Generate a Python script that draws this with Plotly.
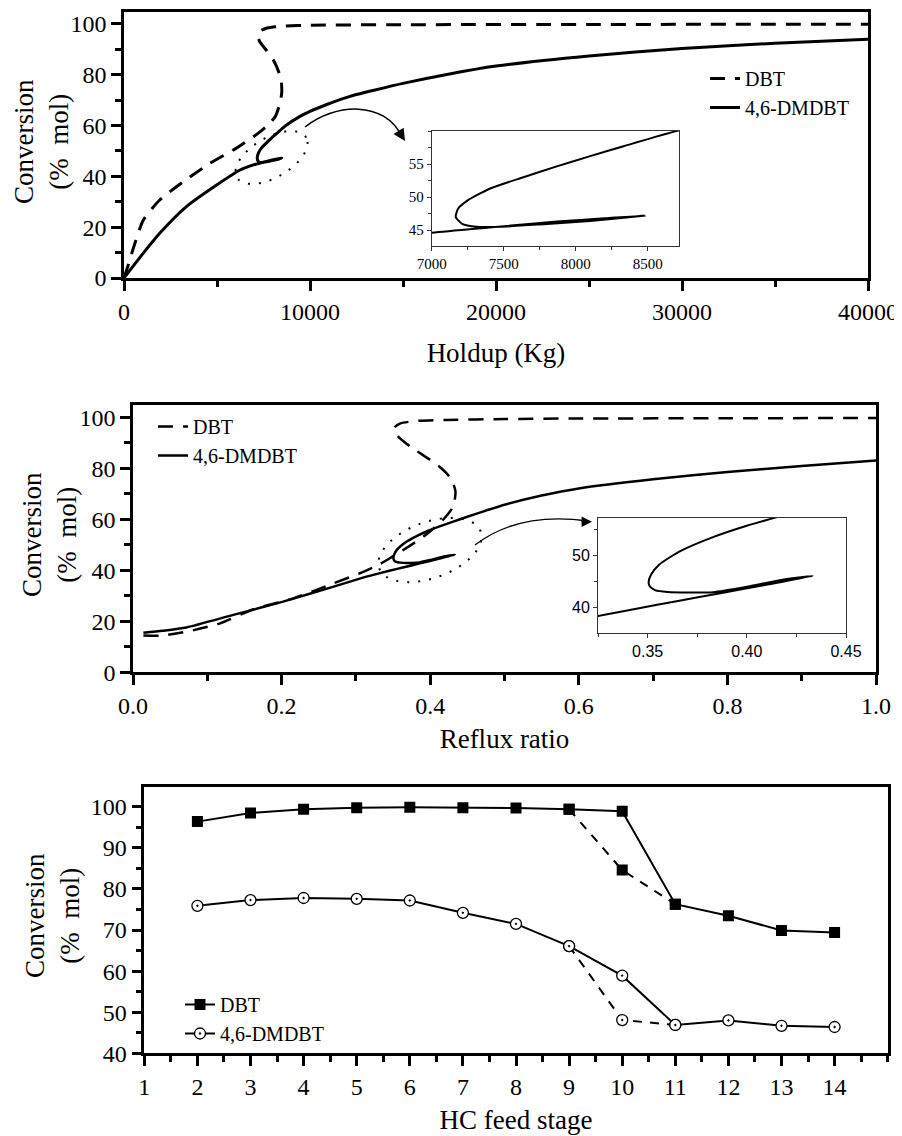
import numpy as np
import plotly.graph_objects as go

W, H = 902, 1136
OFF = 8  # page body margin of the browser

# ---------------- Panel 1: Holdup ----------------
holdup_dbt_x = [0, 200, 500, 1040, 1920, 3190, 4610, 5880, 6950, 7400, 7850, 8150, 8390, 8480,
                8460, 8350, 8030, 7650, 7300, 7200, 7350, 7700, 8500, 10000, 15000, 25000, 40000]
holdup_dbt_y = [0, 4.4, 11.7, 22.8, 30.7, 37.9, 45.1, 50.4, 55.6, 58.0, 61.0, 63.8, 68.8, 73.0,
                77.0, 80.5, 85.8, 89.7, 93.0, 95.5, 97.3, 98.4, 99.1, 99.5, 99.7, 99.8, 99.9]

holdup_dm_x = [0, 1040, 1920, 3370, 4980, 6240, 7000, 7400, 7870, 8200, 8480,
               8100, 7750, 7475, 7313, 7209, 7167, 7185, 7243, 7406, 7637, 7869, 8101, 8333, 8720,
               9460, 10000, 10900, 12150, 13500, 15000, 17500, 20000, 25000, 30000, 35000, 40000]
holdup_dm_y = [0, 9.8, 17.6, 28.2, 36.6, 42.5, 44.6, 45.4, 46.3, 46.8, 47.2,
               46.4, 45.86, 45.5, 45.5, 46.0, 47.0, 48.3, 49.4, 51.3, 53.0, 54.65, 56.2, 57.7, 60.1,
               63.6, 65.6, 68.3, 71.5, 74.0, 76.6, 80.3, 83.4, 87.4, 90.3, 92.4, 94.0]

# ---------------- Panel 2: Reflux ratio ----------------
reflux_dbt_x = [0.014, 0.036, 0.072, 0.117, 0.162, 0.216, 0.27, 0.305, 0.332, 0.35, 0.364, 0.391,
                0.418, 0.431, 0.434, 0.428, 0.415, 0.40, 0.373, 0.355, 0.352, 0.36, 0.38, 0.42,
                0.5, 0.6, 0.8, 1.0]
reflux_dbt_y = [14.4, 14.35, 15.9, 19.2, 24.7, 29.0, 34.9, 38.8, 42.4, 45.5, 48.0, 53.2,
                60.0, 65.0, 71.0, 76.0, 80.0, 83.3, 88.5, 93.1, 96.0, 97.6, 98.5, 98.9,
                99.3, 99.5, 99.6, 99.7]

reflux_dm_x = [0.014, 0.04, 0.072, 0.135, 0.202, 0.27, 0.314, 0.3247, 0.345, 0.366, 0.386, 0.41, 0.4333,
               0.4165, 0.40, 0.383, 0.37, 0.36, 0.354, 0.3512, 0.3505, 0.3517, 0.3559, 0.366, 0.383,
               0.40, 0.4165, 0.43, 0.45, 0.475, 0.5, 0.55, 0.6, 0.7, 0.8, 0.9, 1.0]
reflux_dm_y = [15.5, 16.3, 17.6, 22.5, 27.7, 33.6, 37.5, 38.3, 39.8, 41.3, 42.7, 44.4, 46.1,
               45.25, 44.0, 42.95, 42.9, 43.0, 43.3, 44.0, 44.8, 46.3, 48.3, 50.8, 53.6,
               55.8, 57.6, 59.0, 61.0, 63.4, 65.7, 69.3, 72.1, 75.7, 78.5, 80.9, 83.0]

# ---------------- Panel 3: HC feed stage ----------------
stage = [2, 3, 4, 5, 6, 7, 8, 9, 10, 11, 12, 13, 14]
stage_dbt = [96.4, 98.5, 99.4, 99.8, 99.9, 99.8, 99.7, 99.4, 98.9, 76.3, 73.5, 69.9, 69.4]
stage_dm = [75.9, 77.3, 77.8, 77.6, 77.2, 74.2, 71.5, 66.1, 58.9, 46.9, 48.0, 46.7, 46.4]
alt_stage = [9, 10, 11]
alt_dbt = [99.4, 84.6, 76.3]
alt_dm = [66.1, 48.1, 46.9]
stage_ticks = [1, 2, 3, 4, 5, 6, 7, 8, 9, 10, 11, 12, 13, 14]

SERIF = "Liberation Serif, Times New Roman, serif"
SANS = "Liberation Sans, Arial, sans-serif"


def pxx(x):
    return (x - OFF) / W


def pxy(y):
    return (H + OFF - y) / H


fig = go.Figure()

# Panel 1 traces
fig.add_trace(go.Scatter(x=holdup_dbt_x, y=holdup_dbt_y, mode="lines", name="DBT",
                         line=dict(color="black", width=3, dash="15px,10px", shape="spline", smoothing=0.6),
                         xaxis="x", yaxis="y", legend="legend"))
fig.add_trace(go.Scatter(x=holdup_dm_x, y=holdup_dm_y, mode="lines", name="4,6-DMDBT",
                         line=dict(color="black", width=3, shape="spline", smoothing=0.6),
                         xaxis="x", yaxis="y", legend="legend"))
# inset 1
fig.add_trace(go.Scatter(x=holdup_dm_x, y=holdup_dm_y, mode="lines", showlegend=False,
                         line=dict(color="black", width=2, shape="spline", smoothing=0.6),
                         xaxis="x4", yaxis="y4"))

# Panel 2 traces
fig.add_trace(go.Scatter(x=reflux_dbt_x, y=reflux_dbt_y, mode="lines", name="DBT",
                         line=dict(color="black", width=2.5, dash="15px,10px", shape="spline", smoothing=0.6),
                         xaxis="x2", yaxis="y2", legend="legend2"))
fig.add_trace(go.Scatter(x=reflux_dm_x, y=reflux_dm_y, mode="lines", name="4,6-DMDBT",
                         line=dict(color="black", width=2.5, shape="spline", smoothing=0.6),
                         xaxis="x2", yaxis="y2", legend="legend2"))
# inset 2
fig.add_trace(go.Scatter(x=reflux_dm_x, y=reflux_dm_y, mode="lines", showlegend=False,
                         line=dict(color="black", width=2, shape="spline", smoothing=0.6),
                         xaxis="x5", yaxis="y5"))

# Panel 3 traces
fig.add_trace(go.Scatter(x=alt_stage, y=alt_dbt, mode="lines+markers", showlegend=False,
                         line=dict(color="black", width=2, dash="9px,8px"),
                         marker=dict(symbol="square", size=11, color="black"),
                         xaxis="x3", yaxis="y3"))
fig.add_trace(go.Scatter(x=alt_stage, y=alt_dm, mode="lines+markers", showlegend=False,
                         line=dict(color="black", width=2, dash="9px,8px"),
                         marker=dict(symbol="circle-dot", size=11, color="white",
                                     line=dict(color="black", width=1.3)),
                         xaxis="x3", yaxis="y3"))
fig.add_trace(go.Scatter(x=stage, y=stage_dbt, mode="lines+markers", name="DBT",
                         line=dict(color="black", width=2),
                         marker=dict(symbol="square", size=11, color="black"),
                         xaxis="x3", yaxis="y3", legend="legend3"))
fig.add_trace(go.Scatter(x=stage, y=stage_dm, mode="lines+markers", name="4,6-DMDBT",
                         line=dict(color="black", width=2),
                         marker=dict(symbol="circle-dot", size=11, color="white",
                                     line=dict(color="black", width=1.3)),
                         xaxis="x3", yaxis="y3", legend="legend3"))

tickfont = dict(family=SERIF, size=24, color="black")
titlefont = dict(family=SERIF, size=27, color="black")


def main_axis(**kw):
    d = dict(showline=True, linewidth=2.5, linecolor="black", mirror=True,
             ticks="outside", ticklen=10, tickwidth=2.5, tickcolor="black",
             showgrid=False, zeroline=False, tickfont=tickfont, automargin=False)
    d.update(kw)
    return d


def inset_axis(font, size, **kw):
    d = dict(showline=True, linewidth=1, linecolor="#333", mirror=True,
             ticks="outside", ticklen=4, tickwidth=1, tickcolor="#333",
             showgrid=False, zeroline=False, automargin=False,
             tickfont=dict(family=font, size=size, color="black"))
    d.update(kw)
    return d


fig.update_layout(
    width=W, height=H, autosize=False,
    margin=dict(l=0, r=0, t=0, b=0, pad=0, autoexpand=False),
    paper_bgcolor="white", plot_bgcolor="white",
    font=dict(family=SERIF, color="black"),
    # Panel 1
    xaxis=main_axis(domain=[pxx(124), pxx(868)], anchor="y", range=[0, 40000], dtick=10000, tickformat="d",
                    minor=dict(ticks="outside", ticklen=6, tickwidth=2.5, dtick=5000, tickcolor="black"),
                    title=dict(text="Holdup (Kg)", font=titlefont, standoff=20)),
    yaxis=main_axis(domain=[pxy(278), pxy(12)], anchor="x", range=[0, 104.7], dtick=20,
                    minor=dict(ticks="outside", ticklen=6, tickwidth=2.5, dtick=10, tickcolor="black")),
    # Panel 2
    xaxis2=main_axis(domain=[pxx(133), pxx(876)], anchor="y2", range=[0, 1.0], dtick=0.2, tickformat=".1f",
                     minor=dict(ticks="outside", ticklen=6, tickwidth=2.5, dtick=0.1, tickcolor="black"),
                     title=dict(text="Reflux ratio", font=titlefont, standoff=12)),
    yaxis2=main_axis(domain=[pxy(672.3), pxy(405)], anchor="x2", range=[0, 104.8], dtick=20,
                     minor=dict(ticks="outside", ticklen=6, tickwidth=2.5, dtick=10, tickcolor="black")),
    # Panel 3
    xaxis3=main_axis(domain=[pxx(144.3), pxx(887.7)], anchor="y3", range=[1, 15],
                     tickvals=stage_ticks,
                     minor=dict(ticks="outside", ticklen=6, tickwidth=2.5, tick0=1, dtick=0.5, tickcolor="black"),
                     title=dict(text="HC feed stage", font=titlefont, standoff=12)),
    yaxis3=main_axis(domain=[pxy(1053.3), pxy(786.7)], anchor="x3", range=[40, 104.9], dtick=10,
                     minor=dict(ticks="outside", ticklen=6, tickwidth=2.5, dtick=5, tickcolor="black")),
    # Inset 1
    xaxis4=inset_axis(SERIF, 15, domain=[pxx(431.7), pxx(679.3)], anchor="y4", range=[7000, 8720],
                      tickvals=[7000, 7500, 8000, 8500], tickformat="d",
                      minor=dict(ticks="outside", ticklen=3, tickwidth=1, dtick=250, tickcolor="#333")),
    yaxis4=inset_axis(SERIF, 15, domain=[pxy(246), pxy(131)], anchor="x4", range=[42.6, 60],
                      tickvals=[45, 50, 55],
                      minor=dict(ticks="outside", ticklen=3, tickwidth=1, dtick=2.5, tickcolor="#333")),
    # Inset 2
    xaxis5=inset_axis(SANS, 16, domain=[pxx(598), pxx(846)], anchor="y5", range=[0.325, 0.45],
                      tickvals=[0.35, 0.40, 0.45], tickformat=".2f",
                      minor=dict(ticks="outside", ticklen=3, tickwidth=1, tick0=0, dtick=0.025, tickcolor="#333")),
    yaxis5=inset_axis(SANS, 16, domain=[pxy(632.7), pxy(517.5)], anchor="x5", range=[35.1, 57.4],
                      tickvals=[40, 50],
                      minor=dict(ticks="outside", ticklen=3, tickwidth=1, dtick=5, tickcolor="#333")),
    legend=dict(x=pxx(705), y=pxy(59), xanchor="left", yanchor="top",
                font=dict(family=SERIF, size=20, color="black"), bgcolor="rgba(0,0,0,0)"),
    legend2=dict(x=pxx(153), y=pxy(407), xanchor="left", yanchor="top",
                 font=dict(family=SERIF, size=20, color="black"), bgcolor="rgba(0,0,0,0)"),
    legend3=dict(x=pxx(180), y=pxy(985), xanchor="left", yanchor="top",
                 font=dict(family=SERIF, size=20, color="black"), bgcolor="rgba(0,0,0,0)"),
)

# y-axis titles (two lines, rotated)
for cx, cy in [(41, 142), (49, 535), (53, 916)]:
    fig.add_annotation(x=pxx(cx), y=pxy(cy), xref="paper", yref="paper", showarrow=False,
                       text="Conversion<br>(%\u00a0 mol)", textangle=-90, font=titlefont,
                       xanchor="center", yanchor="middle")


# ---------- decorations: dotted ellipses and curved arrows ----------
def ellipse_path(cx, cy, a, b, theta_deg, n=80):
    th = np.deg2rad(theta_deg)
    t = np.linspace(0, 2 * np.pi, n, endpoint=False)
    xs = cx + a * np.cos(t) * np.cos(th) - b * np.sin(t) * np.sin(th)
    ys = cy - (a * np.cos(t) * np.sin(th) + b * np.sin(t) * np.cos(th))
    pts = [f"{pxx(x):.5f},{pxy(y):.5f}" for x, y in zip(xs, ys)]
    return "M " + " L ".join(pts) + " Z"


def curve_path(p0, p1, p2, p3):
    f = lambda p: f"{pxx(p[0]):.5f},{pxy(p[1]):.5f}"
    return f"M {f(p0)} C {f(p1)} {f(p2)} {f(p3)}"


fig.add_shape(type="path", xref="paper", yref="paper",
              path=ellipse_path(271.5, 157.5, 40, 20, 30),
              line=dict(color="black", width=2, dash="2px,9px"))
fig.add_shape(type="path", xref="paper", yref="paper",
              path=ellipse_path(430, 550, 54, 28, 20),
              line=dict(color="black", width=2, dash="2px,9px"))

fig.add_shape(type="path", xref="paper", yref="paper",
              path=curve_path((305, 127), (335, 103), (385, 100), (402, 137)),
              line=dict(color="black", width=1.5))
fig.add_annotation(x=pxx(405), y=pxy(141), xref="paper", yref="paper", text="",
                   showarrow=True, ax=-7, ay=-11, arrowhead=2, arrowsize=1.6, arrowwidth=1.5,
                   arrowcolor="black")

fig.add_shape(type="path", xref="paper", yref="paper",
              path=curve_path((475, 545), (505, 522), (545, 515), (588, 521)),
              line=dict(color="black", width=1.3))
fig.add_annotation(x=pxx(592), y=pxy(521.7), xref="paper", yref="paper", text="",
                   showarrow=True, ax=-12, ay=0, arrowhead=2, arrowsize=1.6, arrowwidth=1.3,
                   arrowcolor="black")

fig.write_html("out.html")
